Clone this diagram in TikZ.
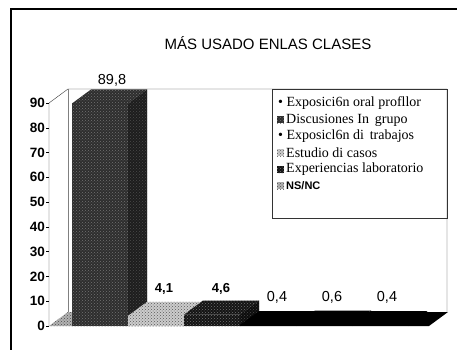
\documentclass[tikz,border=0pt]{standalone}
\usepackage{fontspec}
\setmainfont{Liberation Serif}
\setsansfont{Liberation Sans}
\usetikzlibrary{patterns}
\tikzset{
	oscuro/.style={fill=black!82,postaction={pattern=crosshatch dots,pattern color=white!45!black}},
	claro/.style={fill=black!20,postaction={pattern=crosshatch dots,pattern color=black!65}},
	negro/.style={fill=black!92,postaction={pattern=crosshatch dots,pattern color=black!55}},
	suelo/.style={fill=black!30,postaction={pattern=crosshatch dots,pattern color=black!70}},
	eje/.style={font=\sffamily\bfseries\fontsize{13.5}{13.5}\selectfont,left,inner sep=1pt},
	dato/.style={font=\sffamily\fontsize{14.5}{14.5}\selectfont},
	datob/.style={font=\sffamily\bfseries\fontsize{13}{13}\selectfont},
	ley/.style={font=\fontsize{14}{14}\selectfont,anchor=west,inner sep=0pt}
}
\newcommand{\barra}[3]{%
	\pgfmathsetmacro{\yt}{326-2.478*#2}
	\fill[#3] (#1,326) rectangle (#1+56,\yt);
	\fill[#3] (#1+56,326)--(#1+75,312)--(#1+75,\yt-14)--(#1+56,\yt)--cycle;
	\fill[black,opacity=.35] (#1+56,326)--(#1+75,312)--(#1+75,\yt-14)--(#1+56,\yt)--cycle;
	\fill[#3] (#1,\yt)--(#1+19,\yt-14)--(#1+75,\yt-14)--(#1+56,\yt)--cycle;
}
\begin{document}
\begin{tikzpicture}[x=1pt,y=-1pt]
	\useasboundingbox (0,0) rectangle (457,350);
	\draw[line width=2.5pt] (11,350)--(11,9)--(457,9);
	\node[font=\sffamily\fontsize{15}{15}\selectfont] (titulo) at (268,43) {MÁS USADO ENLAS CLASES};
	\fill[suelo] (49,326)--(68,312)--(259,312)--(240,326)--cycle;
	\fill[black] (240,326)--(259,312)--(448,312)--(429,326)--cycle;
	\draw[black!80] (49,326)--(49,103)--(68,89)--(447,89)--(447,312);
	\draw[black!50] (68,89)--(68,312);
	\foreach \v in {0,10,...,90}
		\draw (49,326-2.478*\v)--(46,326-2.478*\v) node[eje] (y\v) {\v};
	\draw[black!80] (272,89) rectangle (447,218);
	\node[ley] (l1) at (278,103) {•\ Exposici6n oral profllor};
	\fill[oscuro] (277,116) rectangle (284,123);
	\node[ley] (l2) at (286,120) {Discusiones In\, grupo};
	\node[ley] (l3) at (278,136) {•\ Exposicl6n di\, trabajos};
	\fill[claro] (277,149) rectangle (284,156);
	\node[ley] (l4) at (286,153) {Estudio di casos};
	\fill[negro] (277,166) rectangle (284,173);
	\node[ley] (l5) at (286,169) {Experiencias laboratorio};
	\fill[suelo] (277,182) rectangle (284,189);
	\node[ley,font=\sffamily\bfseries\fontsize{11}{11}\selectfont] (l6) at (286,186) {NS/NC};
	\barra{72}{89.8}{oscuro}
	\barra{128}{4.1}{claro}
	\barra{184}{4.6}{negro}
	\barra{240}{0.4}{black}
	\barra{296}{0.6}{black}
	\barra{352}{0.4}{black}
	\node[dato] (d1) at (112,80) {89,8};
	\node[datob] (d2) at (164,289) {4,1};
	\node[datob] (d3) at (221,289) {4,6};
	\node[dato] (d4) at (277,297) {0,4};
	\node[dato] (d5) at (332,297) {0,6};
	\node[dato] (d6) at (387,297) {0,4};
\end{tikzpicture}
\end{document}
